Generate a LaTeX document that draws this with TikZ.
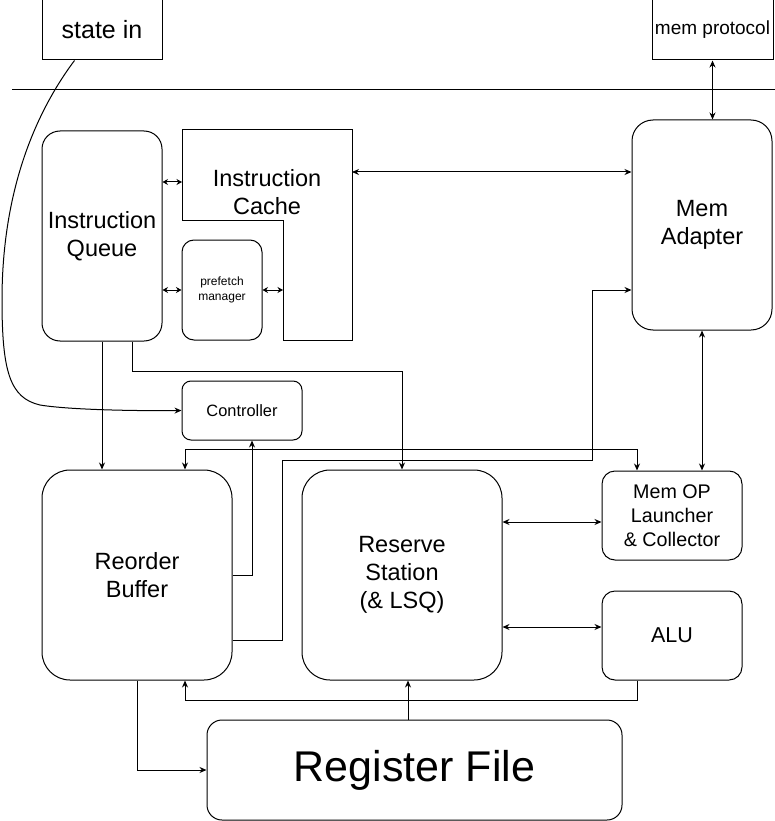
\documentclass[tikz,border=0pt]{standalone}
\usepackage{fontspec}
\setmainfont{Liberation Sans}
\usetikzlibrary{arrows.meta}
\newcommand\myfs[2]{\fontsize{#1}{#2}\selectfont}
\begin{document}
\begin{tikzpicture}[x=1pt,y=-1pt,
  box/.style={draw, line width=1pt, align=center, inner sep=0pt},
  rbox/.style={box, rounded corners=#1},
  rbox/.default=15pt,
  big/.style={font=\myfs{23.5}{28}},
  arr/.style={line width=1pt, -{Stealth[length=7pt,width=6pt]}},
  dbl/.style={line width=1pt, {Stealth[length=7pt,width=6pt]}-{Stealth[length=7pt,width=6pt]}},
  sdbl/.style={line width=1pt, {Stealth[length=5.5pt,width=6pt]}-{Stealth[length=5.5pt,width=6pt]}},
]
\useasboundingbox (0,0) rectangle (775,821);

% nodes
\node[box, minimum width=120pt, minimum height=60pt, font=\myfs{25}{30}] (si) at (102,30) {state in};
\node[box, minimum width=121pt, minimum height=60pt, font=\myfs{19}{23}] (mp) at (712.5,30) {mem protocol};
\draw[line width=1pt] (12,90) -- (775,90);

\node[rbox=18pt, minimum width=120pt, minimum height=210pt, big] (iq) at (102,236) {Instruction\\Queue};
\draw[line width=1pt] (182,130) -- (352,130) -- (352,340) -- (283,340) -- (283,220) -- (182,220) -- cycle;
\node[big, align=center] (ic) at (267,192) {Instruction\\Cache};
\coordinate (icL) at (182,182);
\coordinate (icR) at (352,172);
\coordinate (icI) at (283,290);
\node[rbox=12pt, minimum width=80pt, minimum height=100pt, font=\myfs{12}{15}] (pm) at (222,290) {prefetch\\manager};
\node[rbox=21pt, minimum width=140pt, minimum height=210pt, big] (ma) at (702,225) {Mem\\Adapter};
\node[rbox=9pt, minimum width=120pt, minimum height=59pt, font=\myfs{16.4}{20}] (ctl) at (242,410.5) {Controller};
\node[rbox=28pt, minimum width=190pt, minimum height=210pt, big] (rb) at (137,575) {Reorder\\Buffer};
\node[rbox=28pt, minimum width=200pt, minimum height=210pt, big] (rs) at (402,575) {Reserve\\Station\\(\& LSQ)};
\node[rbox=13pt, minimum width=140pt, minimum height=89pt, font=\myfs{19.7}{24}] (mo) at (672,515.5) {Mem OP\\Launcher\\\& Collector};
\node[rbox=13pt, minimum width=140pt, minimum height=89pt, font=\myfs{21.5}{25}] (alu) at (672,635.5) {ALU};
\node[rbox=15pt, minimum width=415pt, minimum height=100pt, font=\myfs{43}{50}] (rf) at (414.5,770) {Register File};

% connectors
\draw[arr] ([xshift=33pt]si.south west) .. controls (30,120) and (2,200) .. (2,300)
  .. controls (2,372) and (10,398) .. (40,405) .. controls (70,410) and (140,411) .. (ctl.west);
\draw[dbl] (mp.south) -- (mp.south |- ma.north);
\draw[sdbl] (iq.east |- icL) -- (icL);
\draw[sdbl] (pm.west -| iq.east) -- (pm.west);
\draw[sdbl] (pm.east) -- (icI);
\draw[dbl] (icR) -- (icR -| ma.west);
\draw[arr] (iq.south) -- (iq.south |- rb.north);
\draw[arr] ([xshift=30pt]iq.south) -- ++(0,30) -| (rs.north);
\draw[arr] (rb.east) -| ([xshift=10pt]ctl.south);
\draw[dbl] ([xshift=48pt]rb.north) -- ++(0,-20) -| ([xshift=-35pt]mo.north);
\coordinate (w1) at (282,460);
\coordinate (w2) at (592,290);
\draw[arr] ([yshift=-65pt]rb.east) -| (w1) -| (w2) -- (w2 -| ma.west);
\draw[dbl] (ma.south) -- (ma.south |- mo.north);
\draw[dbl] ([yshift=-6.5pt]mo.west -| rs.east) -- ([yshift=-6.5pt]mo.west);
\draw[dbl] ([yshift=8.5pt]alu.west -| rs.east) -- ([yshift=8.5pt]alu.west);
\draw[arr] ([xshift=-35pt]alu.south) -- ++(0,20) -| ([xshift=48pt]rb.south);
\draw[arr] ([xshift=-6.5pt]rf.north) -- ([xshift=-6.5pt]rf.north |- rs.south);
\draw[arr] (rb.south) |- (rf.west);
\end{tikzpicture}
\end{document}
